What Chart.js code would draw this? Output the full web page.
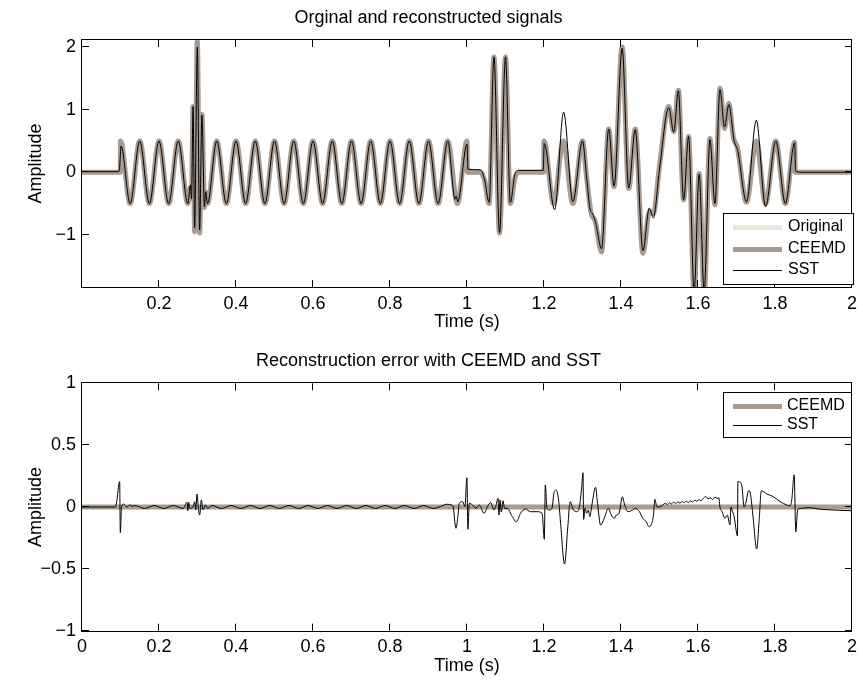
<!DOCTYPE html>
<html><head><meta charset="utf-8">
<script src="https://cdn.jsdelivr.net/npm/chart.js@4.4.1/dist/chart.umd.min.js"></script>
<style>
html,body{margin:0;padding:0;background:#fff;width:863px;height:681px;overflow:hidden}
canvas{position:absolute;left:0}
#c1{top:0}
#c2{top:340px}
</style></head><body>
<canvas id="c1" width="863" height="340"></canvas>
<canvas id="c2" width="863" height="341"></canvas>
<script>
// ---------- data (time in s, amplitude) ----------
const originalSignal = [[0,0],[0.0995,0],[0.1,0.5],[0.125,-0.5],[0.15,0.5],[0.175,-0.5],[0.2,0.5],[0.225,-0.5],[0.25,0.5],[0.275,-0.5],
[0.2805,-0.25],[0.2845,-0.42],[0.2885,1.05],[0.2925,-0.95],[0.2995,2.1],[0.3055,-0.97],[0.3115,0.92],[0.318,-0.56],[0.3215,-0.32],[0.326,-0.5],
[0.35,0.5],[0.375,-0.5],[0.4,0.5],[0.425,-0.5],[0.45,0.5],[0.475,-0.5],[0.5,0.5],[0.525,-0.5],[0.55,0.5],[0.575,-0.5],[0.6,0.5],[0.625,-0.5],
[0.65,0.5],[0.675,-0.5],[0.7,0.5],[0.725,-0.5],[0.75,0.5],[0.775,-0.5],[0.8,0.5],[0.825,-0.5],[0.85,0.5],[0.875,-0.5],[0.9,0.5],[0.925,-0.5],
[0.95,0.5],[0.975,-0.5],[1.0,0.5],[1.001,0],[1.035,0],[1.045,-0.12],[1.0575,-0.5],[1.07,1.84],[1.0845,-0.97],[1.1,1.84],[1.1125,-0.5],
[1.125,-0.08],[1.135,0],[1.1995,0],[1.2,0.5],[1.225,-0.5],[1.25,0.5],[1.275,-0.5],[1.3,0.5],[1.311,-0.1],[1.322,-0.64],[1.333,-0.78],
[1.3495,-1.27],[1.368,0.69],[1.382,-0.23],[1.403,2.0],[1.42,-0.26],[1.437,0.69],[1.457,-1.29],[1.474,-0.62],[1.484,-0.66],[1.5,0.1],
[1.524,1.05],[1.537,0.65],[1.549,1.31],[1.5626,-0.44],[1.5755,0.57],[1.59,-1.95],[1.603,-0.02],[1.616,-1.95],[1.631,0.54],[1.644,-0.52],
[1.657,1.34],[1.669,0.7],[1.68,1.1],[1.692,0.55],[1.702,0.4],[1.726,-0.48],[1.7515,0.5],[1.7755,-0.5],[1.802,0.5],[1.827,-0.5],[1.851,0.48],
[1.8525,0],[2.0,0]];
// CEEMD reconstruction coincides with the original (its error is flat zero)
const ceemdSignal = originalSignal;
const sstSignal = [[0,0.01],[0.095,0.01],[0.0975,0.06],[0.1015,0.42],[0.125,-0.5],[0.15,0.5],[0.175,-0.5],[0.2,0.5],[0.225,-0.5],[0.25,0.5],
[0.275,-0.5],[0.2815,-0.2],[0.2845,-0.42],[0.2885,1.05],[0.2925,-0.89],[0.2995,2.0],[0.3055,-0.92],[0.3115,0.91],[0.318,-0.55],[0.3215,-0.31],
[0.326,-0.5],[0.35,0.5],[0.375,-0.5],[0.4,0.5],[0.425,-0.5],[0.45,0.5],[0.475,-0.5],[0.5,0.5],[0.525,-0.5],[0.55,0.5],[0.575,-0.5],[0.6,0.5],
[0.625,-0.5],[0.65,0.5],[0.675,-0.5],[0.7,0.5],[0.725,-0.5],[0.75,0.5],[0.775,-0.5],[0.8,0.5],[0.825,-0.5],[0.85,0.5],[0.875,-0.5],[0.9,0.5],
[0.925,-0.5],[0.95,0.5],[0.969,-0.43],[0.972,-0.38],[0.976,-0.47],[1.0,0.45],[1.0025,0.05],[1.035,0.04],[1.045,-0.1],[1.0575,-0.48],
[1.07,1.84],[1.0845,-0.96],[1.1,1.84],[1.1125,-0.48],[1.125,-0.02],[1.135,0.03],[1.198,0.03],[1.2006,0.46],[1.2276,-0.6],[1.251,0.96],
[1.275,-0.47],[1.3,0.5],[1.311,-0.1],[1.32,-0.6],[1.326,-0.66],[1.334,-0.8],[1.3495,-1.22],[1.368,0.69],[1.382,-0.22],[1.403,1.98],
[1.42,-0.25],[1.437,0.68],[1.457,-1.25],[1.4735,-0.57],[1.484,-0.73],[1.5,0.05],[1.524,1.03],[1.537,0.64],[1.549,1.3],[1.5626,-0.44],
[1.5755,0.57],[1.59,-1.9],[1.603,-0.03],[1.616,-1.9],[1.631,0.52],[1.644,-0.5],[1.657,1.32],[1.669,0.72],[1.68,1.08],[1.694,0.5],[1.703,0.35],
[1.726,-0.47],[1.7515,0.83],[1.7755,-0.55],[1.802,0.5],[1.827,-0.5],[1.851,0.47],[1.8535,0.02],[1.87,0],[2.0,0]];
const ceemdError = [[0,0],[2,0]];
const sstError = [[0,0],[0.086,0],[0.0892,0.024],[0.0978,0.205],[0.0995,-0.208],[0.1029,0.003],[0.108,0.024],[0.1167,0],[0.125,0.019],[0.1296,0.005],
[0.1375,0.012],[0.1625,-0.012],[0.1875,0.012],[0.2125,-0.012],[0.2375,0.012],[0.2625,-0.012],
[0.273,0.038],[0.2747,-0.03],[0.2773,0.038],[0.28,-0.011],[0.2885,0],[0.2928,0.043],[0.2954,-0.024],[0.2988,0.105],[0.3023,-0.011],
[0.3057,-0.065],[0.31,0.057],[0.3142,-0.024],[0.3211,0.016],[0.327,-0.011],
[0.3375,0.012],[0.3625,-0.012],[0.3875,0.012],[0.4125,-0.012],[0.4375,0.012],[0.4625,-0.012],[0.4875,0.012],[0.5125,-0.012],[0.5375,0.012],
[0.5625,-0.012],[0.5875,0.012],[0.6125,-0.012],[0.6375,0.012],[0.6625,-0.012],[0.6875,0.012],[0.7125,-0.012],[0.7375,0.012],[0.7625,-0.012],
[0.7875,0.012],[0.8125,-0.012],[0.8375,0.012],[0.8625,-0.012],[0.8875,0.012],[0.9125,-0.012],[0.9375,0.012],
[0.9457,0.022],[0.963,0.011],[0.9714,-0.172],[0.9758,-0.092],[0.98,0.03],[0.9887,0.043],[0.9946,0.003],[0.9998,0.237],[1.0023,-0.18],
[1.006,0.03],[1.0144,0.016],[1.023,-0.011],[1.0317,0.016],[1.0446,-0.051],[1.053,0.003],[1.0616,0.035],[1.07,-0.024],[1.0745,0.003],
[1.0806,0.07],[1.0832,-0.065],[1.0858,0.057],[1.0892,-0.04],[1.0935,0.05],[1.0977,-0.011],[1.1046,-0.011],[1.1175,-0.078],[1.1287,-0.119],
[1.139,-0.051],[1.152,-0.016],[1.1647,-0.038],[1.182,-0.038],[1.195,-0.051],[1.2008,-0.261],[1.2034,0.178],[1.2077,-0.011],[1.2147,-0.024],
[1.2206,-0.011],[1.2266,0.124],[1.2317,0.137],[1.2379,0.057],[1.2438,-0.159],[1.2533,-0.461],[1.2619,-0.159],[1.2678,0.043],[1.2765,-0.024],
[1.285,-0.038],[1.292,0.003],[1.298,0.164],[1.3013,0.277],[1.303,-0.1],[1.3065,-0.011],[1.3108,-0.051],[1.315,-0.024],[1.3193,-0.078],
[1.3237,0.003],[1.334,0.159],[1.339,0.03],[1.347,-0.146],[1.358,-0.078],[1.3667,-0.011],[1.375,-0.065],[1.382,-0.092],[1.388,-0.065],
[1.395,-0.051],[1.4036,0.083],[1.4096,0.016],[1.418,-0.038],[1.4268,-0.03],[1.438,-0.011],[1.448,-0.038],[1.457,-0.092],[1.4655,-0.119],
[1.4724,-0.159],[1.478,-0.146],[1.4843,-0.065],[1.488,0.062],[1.493,0.003],[1.4997,0],[1.5085,0.016],
[1.515,0.03],[1.52,0.02],[1.526,0.035],[1.531,0.025],[1.537,0.04],[1.542,0.028],[1.548,0.042],[1.553,0.03],[1.559,0.045],[1.564,0.035],
[1.57,0.048],[1.575,0.036],[1.581,0.05],[1.586,0.04],[1.592,0.055],[1.597,0.045],[1.603,0.06],[1.608,0.05],[1.614,0.07],[1.62,0.085],
[1.626,0.065],[1.632,0.075],[1.638,0.06],[1.644,0.08],[1.65,0.07],[1.654,0.075],[1.657,0],[1.663,-0.04],[1.67,-0.092],[1.676,-0.065],
[1.683,-0.145],[1.6855,0],[1.6885,-0.024],[1.694,-0.08],[1.7026,-0.234],[1.7035,0.205],[1.71,0.2],[1.714,0.17],[1.7198,0],[1.724,0.03],
[1.7317,0.132],[1.736,0.11],[1.743,-0.08],[1.7524,-0.34],[1.759,-0.1],[1.7644,0.13],[1.779,0.105],[1.796,0.083],[1.8134,0.043],[1.8307,0.016],
[1.839,0.008],[1.8435,0.057],[1.8498,0.26],[1.8541,-0.2],[1.859,-0.019],[1.869,-0.011],[1.886,-0.005],[1.921,-0.019],[2.0,-0.03]];

const topXTicks = [0.2,0.4,0.6,0.8,1,1.2,1.4,1.6,1.8,2];
const topYTicks = [-1,0,1,2];
const botXTicks = [0,0.2,0.4,0.6,0.8,1,1.2,1.4,1.6,1.8,2];
const botYTicks = [-1,-0.5,0,0.5,1];

// ---------- styling ----------
const FONT = "'Liberation Sans', Arial, Helvetica, sans-serif";
const COL_ORIG = '#ebe6dc', COL_CEEMD = '#a89c92', COL_SST = '#000000';
const toXY = arr => arr.map(p => ({x:p[0], y:p[1]}));
const fmt = v => v < 0 ? '\u2212' + Math.abs(v) : String(v);

const framePlugin = {
  id:'frame',
  afterDatasetsDraw(chart){
    const {ctx, chartArea:a, scales:{x, y}} = chart;
    ctx.save();
    ctx.strokeStyle = '#000'; ctx.lineWidth = 1;
    ctx.strokeRect(Math.round(a.left)-0.5, Math.round(a.top)-0.5, Math.round(a.right)-Math.round(a.left), Math.round(a.bottom)-Math.round(a.top)+1);
    const TL = 7;
    ctx.beginPath();
    x.ticks.forEach(t => {
      const px = Math.round(x.getPixelForValue(t.value)) - 0.5;
      ctx.moveTo(px, a.bottom); ctx.lineTo(px, a.bottom - TL);
      ctx.moveTo(px, a.top); ctx.lineTo(px, a.top + TL);
    });
    y.ticks.forEach(t => {
      const py = Math.round(y.getPixelForValue(t.value)) - 0.5;
      ctx.moveTo(a.left, py); ctx.lineTo(a.left + TL, py);
      ctx.moveTo(a.right, py); ctx.lineTo(a.right - TL, py);
    });
    ctx.stroke();
    ctx.restore();
  }
};

const legendPlugin = {
  id:'boxLegend',
  afterDraw(chart, args, L){
    if (!L || !L.items) return;
    const ctx = chart.ctx;
    ctx.save();
    const [bx, by, bw, bh] = L.box;
    ctx.fillStyle = '#fff'; ctx.fillRect(bx, by, bw, bh);
    ctx.strokeStyle = '#000'; ctx.lineWidth = 1; ctx.strokeRect(bx + 0.5, by + 0.5, bw, bh);
    ctx.font = '16px ' + FONT; ctx.textBaseline = 'middle'; ctx.textAlign = 'left';
    L.items.forEach(it => {
      const ds = chart.data.datasets[it.ds];
      const ly = ds.borderWidth % 2 === 1 ? Math.round(it.y) + 0.5 : Math.round(it.y);
      ctx.strokeStyle = ds.borderColor; ctx.lineWidth = ds.borderWidth; ctx.lineCap = 'butt';
      ctx.beginPath(); ctx.moveTo(L.x0, ly); ctx.lineTo(L.x1, ly); ctx.stroke();
      ctx.fillStyle = '#000'; ctx.fillText(ds.label, L.tx, it.y);
    });
    ctx.restore();
  }
};

function lineDs(label, data, color, width, order){
  return {label, data: toXY(data), borderColor: color, backgroundColor: color, borderWidth: width,
    pointRadius: 0, fill: false, cubicInterpolationMode: 'monotone', borderJoinStyle: 'round',
    borderCapStyle: 'round', clip: 0, order};
}

function makeChart(id, cfg){
  return new Chart(document.getElementById(id), {
    type: 'line',
    data: {datasets: cfg.datasets},
    options: {
      responsive: false, animation: false, devicePixelRatio: 1,
      layout: {padding: {left: 0, right: 6, top: 0, bottom: 0}},
      plugins: {
        legend: {display: false}, tooltip: {enabled: false},
        title: {display: true, text: cfg.title, color: '#000',
          font: {family: FONT, size: 18, weight: 'normal', lineHeight: 1.2},
          padding: {top: cfg.titleTop, bottom: cfg.titleBottom}},
        boxLegend: cfg.legend
      },
      scales: {
        x: {type: 'linear', min: 0, max: 2,
          grid: {display: false, drawTicks: false}, border: {display: false},
          afterBuildTicks: s => { s.ticks = cfg.xTicks.map(v => ({value: v})); },
          afterFit: s => { s.height = cfg.xHeight; },
          ticks: {color: '#000', font: {family: FONT, size: 18}, padding: 6, maxRotation: 0, autoSkip: false,
            callback: v => fmt(v)},
          title: {display: true, text: 'Time (s)', color: '#000', font: {family: FONT, size: 18, lineHeight: 1.2},
            padding: {top: 0, bottom: cfg.xTitleBottom}}
        },
        y: {type: 'linear', min: cfg.yMin, max: cfg.yMax,
          grid: {display: false, drawTicks: false}, border: {display: false},
          afterBuildTicks: s => { s.ticks = cfg.yTicks.map(v => ({value: v})); },
          afterFit: s => { s.width = 82; },
          ticks: {color: '#000', font: {family: FONT, size: 18}, padding: 6, autoSkip: false,
            callback: v => fmt(v)},
          title: {display: true, text: 'Amplitude', color: '#000', font: {family: FONT, size: 18, lineHeight: 1.2},
            padding: {top: 25, bottom: 0}}
        }
      }
    },
    plugins: [framePlugin, legendPlugin]
  });
}

makeChart('c1', {
  title: 'Orginal and reconstructed signals',
  titleTop: 7.2, titleBottom: 11.2,
  xHeight: 53, xTitleBottom: 7.2,
  yMin: -1.83, yMax: 2.11,
  xTicks: topXTicks, yTicks: topYTicks,
  datasets: [
    lineDs('Original', originalSignal, COL_ORIG, 5, 2),
    lineDs('CEEMD', ceemdSignal, COL_CEEMD, 5, 1),
    lineDs('SST', sstSignal, COL_SST, 1, 0)
  ],
  legend: {box: [723, 213, 130, 71], x0: 733, x1: 782, tx: 788,
    items: [{ds: 0, y: 226.5}, {ds: 1, y: 249}, {ds: 2, y: 270}]}
});

makeChart('c2', {
  title: 'Reconstruction error with CEEMD and SST',
  titleTop: 10.2, titleBottom: 11.5,
  xHeight: 50.3, xTitleBottom: 4.2,
  yMin: -1, yMax: 1,
  xTicks: botXTicks, yTicks: botYTicks,
  datasets: [
    lineDs('CEEMD', ceemdError, COL_CEEMD, 5, 1),
    lineDs('SST', sstError, COL_SST, 1, 0)
  ],
  legend: {box: [723, 52, 128, 45], x0: 733, x1: 782, tx: 787,
    items: [{ds: 0, y: 65.5}, {ds: 1, y: 85}]}
});
</script>
</body></html>
